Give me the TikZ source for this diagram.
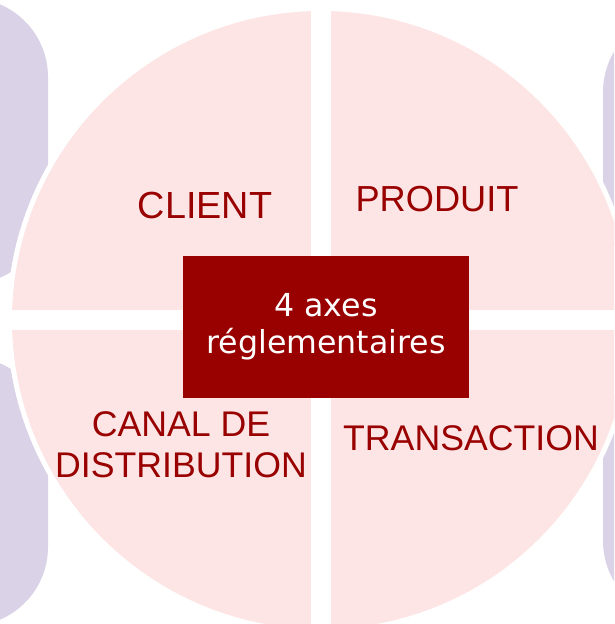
\documentclass[tikz,border=0pt]{standalone}
\usepackage{fontspec}
\setmainfont{Liberation Sans}
\newfontfamily\boxfont{DejaVu Sans}
\usepackage{tikz}

\definecolor{lavande}{RGB}{218,210,230}
\definecolor{rose}{RGB}{253,229,229}
\definecolor{bordeaux}{RGB}{153,0,0}

\begin{document}
\begin{tikzpicture}[x=0.02cm, y=-0.02cm,
    axe/.style={text=bordeaux, font=\fontsize{20.3}{23.5}\selectfont, align=center, inner sep=0pt}]
    \useasboundingbox (0,0) rectangle (614,624);
    \clip (0,0) rectangle (614,624);

    % Side panels
    \fill[lavande, rounded corners=45] (-80,-2) rectangle (48,284);
    \fill[lavande, rounded corners=45] (-80,357) rectangle (48,626);
    \fill[lavande, rounded corners=45] (603,13) rectangle (720,285);
    \fill[lavande, rounded corners=45] (603,356) rectangle (720,620);

    % Disc split in four
    \draw[fill=rose, draw=white, line width=2.8pt] (321,320) circle (311.5);
    \fill[white] (311,-20) rectangle (331,650);
    \fill[white] (-20,310) rectangle (650,330);

    % Quadrant labels
    \node[axe, font=\fontsize{21.5}{24}\selectfont] (client) at (205,205) {CLIENT};
    \node[axe, font=\fontsize{20.6}{24}\selectfont] (produit) at (437,199) {PRODUIT};
    \node[axe] (canal) at (181,445) {CANAL DE\\DISTRIBUTION};
    \node[axe] (transaction) at (471,438) {TRANSACTION};

    % Centre box
    \node[fill=bordeaux, text=white, minimum width=5.72cm, minimum height=2.84cm, inner sep=0pt,
          align=center, font=\boxfont\fontsize{18}{21}\selectfont] (axes) at (326,327)
          {\raisebox{-3pt}{4 axes}\\\raisebox{-3pt}{réglementaires}};
\end{tikzpicture}
\end{document}
